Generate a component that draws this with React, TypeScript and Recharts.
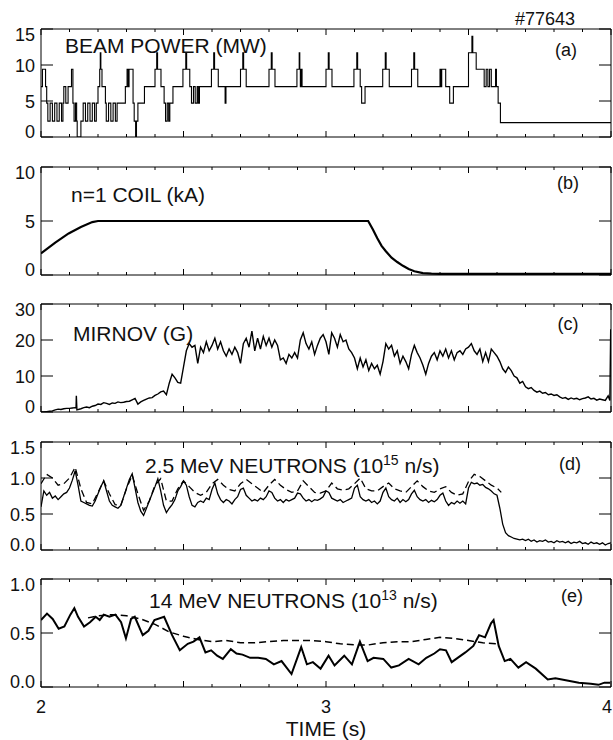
import React from 'react';
import { LineChart, Line, XAxis, YAxis } from 'recharts';

// ---- data (time in s) ----

// (a) beam power, MW, stepwise
const beamPower = [
  [2.000, 7.0], [2.005, 9.4], [2.016, 7.0], [2.020, 4.7], [2.024, 2.2], [2.032, 4.7], [2.040, 2.2], [2.048, 4.7],
  [2.056, 2.2], [2.064, 4.7], [2.072, 2.2], [2.077, 4.7], [2.080, 7.0], [2.087, 4.7], [2.095, 7.0], [2.107, 9.4],
  [2.112, 4.7], [2.116, 2.2], [2.121, 4.7], [2.125, 2.2], [2.127, 0], [2.140, 2.2], [2.148, 4.7], [2.156, 2.2],
  [2.164, 4.7], [2.172, 2.2], [2.180, 4.7], [2.188, 2.2], [2.194, 4.7], [2.200, 7.0], [2.206, 9.4], [2.208, 11.7],
  [2.210, 9.4], [2.214, 7.0], [2.226, 4.7], [2.229, 2.2], [2.237, 4.7], [2.245, 2.2], [2.253, 4.7], [2.261, 2.2],
  [2.267, 4.7], [2.296, 7.0], [2.302, 9.4], [2.306, 7.0], [2.309, 9.4], [2.323, 4.7], [2.327, 2.2], [2.332, 0],
  [2.335, 2.2], [2.340, 4.7], [2.363, 7.0], [2.400, 9.4], [2.406, 11.7], [2.409, 9.4], [2.421, 7.0], [2.432, 4.7],
  [2.437, 2.2], [2.443, 4.7], [2.448, 2.2], [2.452, 4.7], [2.463, 7.0], [2.498, 9.4], [2.508, 11.7], [2.511, 9.4],
  [2.522, 7.0], [2.528, 4.7], [2.535, 7.0], [2.541, 4.7], [2.548, 7.0], [2.552, 4.7], [2.556, 7.0], [2.598, 9.4],
  [2.606, 11.7], [2.609, 9.4], [2.622, 7.0], [2.646, 4.7], [2.649, 7.0], [2.700, 9.4], [2.708, 11.7], [2.711, 9.4],
  [2.720, 7.0], [2.800, 9.4], [2.808, 11.7], [2.811, 9.4], [2.821, 7.0], [2.898, 9.4], [2.906, 11.7], [2.908, 9.4],
  [2.910, 7.0], [2.913, 9.4], [2.916, 7.0], [3.000, 9.4], [3.008, 11.7], [3.011, 9.4], [3.021, 7.0], [3.098, 9.4],
  [3.108, 11.7], [3.111, 9.4], [3.120, 7.0], [3.125, 4.7], [3.137, 7.0], [3.199, 9.4], [3.208, 11.7], [3.211, 9.4],
  [3.222, 7.0], [3.300, 9.4], [3.308, 11.7], [3.311, 9.4], [3.322, 7.0], [3.400, 9.4], [3.403, 7.0], [3.406, 9.4],
  [3.420, 7.0], [3.434, 4.7], [3.447, 7.0], [3.500, 11.7], [3.512, 14.0], [3.515, 11.7], [3.527, 9.4], [3.555, 7.0],
  [3.562, 9.4], [3.568, 7.0], [3.574, 9.4], [3.580, 7.0], [3.595, 9.4], [3.598, 7.0], [3.604, 4.7], [3.612, 2.0],
  [4.000, 2.0],
];

// (b) n=1 coil current, kA
const coilCurrent = [
  [2.00, 2.0], [2.05, 3.0], [2.097, 3.85], [2.14, 4.45], [2.18, 4.9], [2.20, 5.0], [3.148, 5.0], [3.165, 4.2],
  [3.18, 3.4], [3.195, 2.7], [3.21, 2.2], [3.23, 1.6], [3.25, 1.2], [3.27, 0.85], [3.29, 0.55], [3.31, 0.35],
  [3.34, 0.18], [3.37, 0.12], [3.40, 0.1], [4.00, 0.1],
];

// (c) Mirnov amplitude, G
const mirnov = [
  [2.00, 0], [2.01, 0], [2.02, 0.1], [2.03, 0.2], [2.04, 0.3], [2.05, 0.6], [2.06, 0.8], [2.07, 0.7], [2.08, 0.9],
  [2.09, 1.0], [2.10, 1.0], [2.11, 1.1], [2.12, 1.2], [2.123, 1.1], [2.124, 4.5], [2.126, 0.6], [2.14, 0.9],
  [2.15, 1.2], [2.16, 1.4], [2.17, 1.2], [2.18, 1.6], [2.19, 1.8], [2.20, 2.2], [2.21, 2.1], [2.22, 2.6],
  [2.23, 2.4], [2.24, 2.1], [2.25, 2.5], [2.26, 2.4], [2.27, 2.8], [2.28, 2.6], [2.29, 2.7], [2.30, 2.9],
  [2.31, 3.0], [2.32, 3.4], [2.33, 3.8], [2.34, 2.2], [2.35, 2.8], [2.36, 3.2], [2.37, 3.6], [2.38, 3.9],
  [2.39, 4.0], [2.40, 4.6], [2.41, 5.0], [2.42, 5.6], [2.43, 5.8], [2.44, 4.8], [2.45, 8.0], [2.46, 10.5],
  [2.47, 9.5], [2.48, 8.2], [2.49, 8.0], [2.50, 12.5], [2.51, 17.0], [2.52, 19.0], [2.53, 18.0], [2.54, 18.5],
  [2.55, 13.5], [2.56, 18.0], [2.57, 16.5], [2.58, 19.5], [2.59, 17.0], [2.60, 18.5], [2.61, 20.5], [2.62, 17.5],
  [2.63, 19.5], [2.64, 17.0], [2.65, 15.5], [2.66, 17.5], [2.67, 16.0], [2.68, 18.0], [2.69, 16.5], [2.70, 13.5],
  [2.71, 19.0], [2.72, 20.5], [2.73, 18.0], [2.74, 22.5], [2.75, 17.0], [2.76, 20.5], [2.77, 17.5], [2.78, 21.0],
  [2.79, 18.5], [2.80, 20.5], [2.81, 18.0], [2.82, 20.0], [2.83, 18.5], [2.84, 14.5], [2.85, 15.0], [2.86, 13.5],
  [2.87, 16.0], [2.88, 15.0], [2.89, 16.5], [2.90, 15.0], [2.91, 20.0], [2.92, 22.0], [2.93, 19.0], [2.94, 17.5],
  [2.95, 19.5], [2.96, 16.0], [2.97, 18.5], [2.98, 20.5], [2.99, 21.5], [3.00, 19.5], [3.01, 16.0], [3.02, 22.0],
  [3.03, 20.5], [3.04, 18.0], [3.05, 21.5], [3.06, 19.5], [3.07, 20.0], [3.08, 17.5], [3.09, 16.5], [3.10, 15.0],
  [3.11, 12.0], [3.12, 15.0], [3.13, 12.5], [3.14, 14.5], [3.15, 11.5], [3.16, 13.5], [3.17, 12.0], [3.18, 13.0],
  [3.19, 10.5], [3.20, 14.0], [3.21, 19.0], [3.22, 17.5], [3.23, 18.5], [3.24, 15.5], [3.25, 17.0], [3.26, 13.5],
  [3.27, 15.5], [3.28, 14.0], [3.29, 12.0], [3.30, 16.0], [3.31, 18.5], [3.32, 16.5], [3.33, 15.0], [3.34, 13.0],
  [3.35, 10.5], [3.36, 13.5], [3.37, 15.5], [3.38, 16.5], [3.39, 14.5], [3.40, 17.0], [3.41, 15.5], [3.42, 17.5],
  [3.43, 15.0], [3.44, 17.0], [3.45, 14.5], [3.46, 16.5], [3.47, 17.0], [3.48, 16.0], [3.49, 17.5], [3.50, 18.0],
  [3.51, 19.0], [3.52, 17.0], [3.53, 16.0], [3.54, 17.5], [3.55, 14.0], [3.56, 16.5], [3.57, 14.0], [3.58, 17.5],
  [3.59, 16.5], [3.60, 15.5], [3.61, 14.0], [3.62, 12.0], [3.63, 11.0], [3.64, 12.5], [3.65, 11.5], [3.66, 10.0],
  [3.67, 9.5], [3.68, 8.0], [3.69, 8.5], [3.70, 7.0], [3.71, 6.5], [3.72, 6.8], [3.73, 6.0], [3.74, 5.5],
  [3.75, 5.8], [3.76, 5.2], [3.77, 5.4], [3.78, 4.8], [3.79, 5.0], [3.80, 4.6], [3.81, 4.8], [3.82, 4.2],
  [3.83, 3.8], [3.84, 4.0], [3.85, 3.5], [3.86, 3.9], [3.87, 3.6], [3.88, 3.8], [3.89, 3.4], [3.90, 3.7],
  [3.91, 3.9], [3.92, 4.2], [3.93, 3.6], [3.94, 3.8], [3.95, 3.3], [3.96, 3.6], [3.97, 3.4], [3.98, 3.2],
  [3.99, 4.5], [3.996, 3.2], [3.999, 23.0],
];

// (d) 2.5 MeV neutrons, 1e15 n/s: measured (solid) and calculated (dashed)
const dd25Measured = [
  [2.00, 0.60], [2.01, 0.82], [2.02, 0.76], [2.03, 0.80], [2.04, 0.72], [2.05, 0.75], [2.06, 0.70], [2.07, 0.74],
  [2.08, 0.78], [2.09, 0.80], [2.10, 0.86], [2.11, 0.97], [2.12, 1.10], [2.13, 0.90], [2.14, 0.68], [2.15, 0.66],
  [2.16, 0.64], [2.17, 0.62], [2.18, 0.61], [2.19, 0.68], [2.20, 0.78], [2.21, 0.88], [2.22, 0.96], [2.23, 0.82],
  [2.24, 0.68], [2.25, 0.62], [2.26, 0.60], [2.27, 0.58], [2.28, 0.62], [2.29, 0.74], [2.30, 0.86], [2.31, 0.98],
  [2.32, 1.06], [2.33, 0.86], [2.34, 0.66], [2.35, 0.54], [2.36, 0.48], [2.37, 0.58], [2.38, 0.68], [2.39, 0.78],
  [2.40, 0.88], [2.41, 0.99], [2.42, 0.82], [2.43, 0.62], [2.44, 0.52], [2.45, 0.58], [2.46, 0.63], [2.47, 0.70],
  [2.48, 0.82], [2.49, 0.88], [2.50, 0.96], [2.51, 0.90], [2.52, 0.74], [2.53, 0.62], [2.54, 0.60], [2.55, 0.66],
  [2.56, 0.68], [2.57, 0.66], [2.58, 0.72], [2.59, 0.70], [2.60, 0.84], [2.61, 0.93], [2.62, 0.78], [2.63, 0.70],
  [2.64, 0.66], [2.65, 0.70], [2.66, 0.68], [2.67, 0.64], [2.68, 0.70], [2.69, 0.74], [2.70, 0.84], [2.71, 0.86],
  [2.72, 0.76], [2.73, 0.72], [2.74, 0.68], [2.75, 0.70], [2.76, 0.68], [2.77, 0.72], [2.78, 0.70], [2.79, 0.74],
  [2.80, 0.82], [2.81, 0.80], [2.82, 0.72], [2.83, 0.68], [2.84, 0.70], [2.85, 0.66], [2.86, 0.70], [2.87, 0.68],
  [2.88, 0.70], [2.89, 0.72], [2.90, 0.79], [2.91, 0.78], [2.92, 0.72], [2.93, 0.68], [2.94, 0.70], [2.95, 0.67],
  [2.96, 0.70], [2.97, 0.69], [2.98, 0.71], [2.99, 0.74], [3.00, 0.82], [3.01, 0.80], [3.02, 0.72], [3.03, 0.70],
  [3.04, 0.68], [3.05, 0.70], [3.06, 0.66], [3.07, 0.68], [3.08, 0.70], [3.09, 0.72], [3.10, 0.86], [3.11, 0.90],
  [3.12, 0.74], [3.13, 0.70], [3.14, 0.68], [3.15, 0.70], [3.16, 0.66], [3.17, 0.68], [3.18, 0.64], [3.19, 0.68],
  [3.20, 0.80], [3.21, 0.86], [3.22, 0.74], [3.23, 0.70], [3.24, 0.68], [3.25, 0.72], [3.26, 0.66], [3.27, 0.70],
  [3.28, 0.67], [3.29, 0.70], [3.30, 0.78], [3.31, 0.83], [3.32, 0.74], [3.33, 0.70], [3.34, 0.68], [3.35, 0.70],
  [3.36, 0.66], [3.37, 0.69], [3.38, 0.67], [3.39, 0.70], [3.40, 0.76], [3.41, 0.79], [3.42, 0.68], [3.43, 0.62],
  [3.44, 0.66], [3.45, 0.64], [3.46, 0.68], [3.47, 0.65], [3.48, 0.68], [3.49, 0.64], [3.50, 0.86], [3.51, 0.94],
  [3.52, 0.92], [3.53, 0.93], [3.54, 0.90], [3.55, 0.91], [3.56, 0.87], [3.57, 0.85], [3.58, 0.82], [3.59, 0.78],
  [3.60, 0.76], [3.61, 0.58], [3.62, 0.36], [3.63, 0.24], [3.64, 0.20], [3.65, 0.18], [3.66, 0.16], [3.67, 0.15],
  [3.68, 0.14], [3.69, 0.15], [3.70, 0.13], [3.71, 0.15], [3.72, 0.12], [3.73, 0.14], [3.74, 0.11], [3.75, 0.13],
  [3.76, 0.12], [3.77, 0.14], [3.78, 0.11], [3.79, 0.12], [3.80, 0.10], [3.81, 0.13], [3.82, 0.11], [3.83, 0.12],
  [3.84, 0.10], [3.85, 0.12], [3.86, 0.09], [3.87, 0.11], [3.88, 0.10], [3.89, 0.12], [3.90, 0.09], [3.91, 0.10],
  [3.92, 0.08], [3.93, 0.11], [3.94, 0.09], [3.95, 0.10], [3.96, 0.08], [3.97, 0.10], [3.98, 0.07], [3.99, 0.09],
  [4.00, 0.10],
];
const dd25Calculated = [
  [2.00, 0.92], [2.02, 1.05], [2.04, 1.00], [2.06, 0.90], [2.08, 0.92], [2.10, 1.00], [2.12, 1.15], [2.14, 0.85],
  [2.16, 0.66], [2.18, 0.64], [2.20, 0.80], [2.22, 0.96], [2.24, 0.78], [2.26, 0.63], [2.28, 0.62], [2.30, 0.85],
  [2.32, 1.04], [2.34, 0.78], [2.36, 0.55], [2.38, 0.68], [2.40, 0.90], [2.42, 0.99], [2.44, 0.68], [2.46, 0.68],
  [2.48, 0.85], [2.50, 0.96], [2.52, 0.88], [2.54, 0.80], [2.56, 0.76], [2.58, 0.80], [2.60, 0.92], [2.62, 0.98],
  [2.64, 0.90], [2.66, 0.84], [2.68, 0.82], [2.70, 0.92], [2.72, 0.98], [2.74, 0.92], [2.76, 0.86], [2.78, 0.80],
  [2.80, 0.90], [2.82, 0.98], [2.84, 0.90], [2.86, 0.84], [2.88, 0.80], [2.90, 0.82], [2.92, 0.96], [2.94, 0.88],
  [2.96, 0.80], [2.98, 0.79], [3.00, 0.82], [3.02, 0.93], [3.04, 0.85], [3.06, 0.83], [3.08, 0.85], [3.10, 0.92],
  [3.12, 1.00], [3.14, 0.85], [3.16, 0.82], [3.18, 0.82], [3.20, 0.88], [3.22, 0.93], [3.24, 0.85], [3.26, 0.82],
  [3.28, 0.80], [3.30, 0.88], [3.32, 0.96], [3.34, 0.88], [3.36, 0.82], [3.38, 0.80], [3.40, 0.85], [3.42, 0.88],
  [3.44, 0.80], [3.46, 0.76], [3.48, 0.78], [3.50, 0.95], [3.52, 1.05], [3.54, 1.02], [3.56, 0.96], [3.58, 0.90],
  [3.60, 0.86], [3.615, 0.80],
];

// (e) 14 MeV neutrons, 1e13 n/s: measured (solid) and calculated (dashed)
const dt14Measured = [
  [2.000, 0.62], [2.021, 0.68], [2.041, 0.63], [2.062, 0.54], [2.082, 0.56], [2.103, 0.67], [2.117, 0.73],
  [2.130, 0.65], [2.151, 0.56], [2.172, 0.60], [2.192, 0.65], [2.206, 0.62], [2.220, 0.67], [2.240, 0.65],
  [2.261, 0.67], [2.281, 0.60], [2.298, 0.45], [2.316, 0.63], [2.329, 0.65], [2.357, 0.48], [2.377, 0.52],
  [2.398, 0.62], [2.432, 0.65], [2.460, 0.48], [2.487, 0.34], [2.515, 0.40], [2.535, 0.42], [2.556, 0.46],
  [2.577, 0.32], [2.597, 0.34], [2.618, 0.29], [2.638, 0.26], [2.666, 0.35], [2.686, 0.31], [2.707, 0.30],
  [2.734, 0.27], [2.762, 0.27], [2.789, 0.26], [2.817, 0.21], [2.844, 0.24], [2.879, 0.12], [2.913, 0.37],
  [2.933, 0.21], [2.954, 0.23], [2.981, 0.17], [3.009, 0.29], [3.030, 0.20], [3.064, 0.29], [3.091, 0.21],
  [3.119, 0.42], [3.146, 0.24], [3.167, 0.27], [3.201, 0.26], [3.229, 0.18], [3.256, 0.20], [3.290, 0.26],
  [3.325, 0.21], [3.352, 0.27], [3.380, 0.31], [3.400, 0.35], [3.421, 0.34], [3.441, 0.23], [3.462, 0.27],
  [3.489, 0.32], [3.517, 0.38], [3.537, 0.48], [3.558, 0.46], [3.579, 0.59], [3.588, 0.62], [3.606, 0.38],
  [3.627, 0.24], [3.647, 0.26], [3.675, 0.18], [3.702, 0.23], [3.736, 0.17], [3.778, 0.07], [3.805, 0.08],
  [3.846, 0.06], [3.887, 0.04], [3.929, 0.03], [3.956, 0.02], [3.977, 0.04], [3.997, 0.04],
];
const dt14Calculated = [
  [2.165, 0.64], [2.20, 0.66], [2.25, 0.67], [2.30, 0.66], [2.35, 0.63], [2.40, 0.58], [2.45, 0.51], [2.50, 0.47],
  [2.55, 0.44], [2.60, 0.42], [2.65, 0.43], [2.70, 0.41], [2.75, 0.41], [2.80, 0.42], [2.85, 0.43], [2.90, 0.43],
  [2.95, 0.43], [3.00, 0.42], [3.05, 0.40], [3.10, 0.39], [3.15, 0.39], [3.20, 0.41], [3.25, 0.42], [3.30, 0.42],
  [3.35, 0.44], [3.40, 0.46], [3.45, 0.45], [3.50, 0.43], [3.55, 0.41], [3.60, 0.40],
];

// axis ticks
const timeTicks = [2.0, 2.1, 2.2, 2.3, 2.4, 2.5, 2.6, 2.7, 2.8, 2.9, 3.0, 3.1, 3.2, 3.3, 3.4, 3.5, 3.6, 3.7, 3.8, 3.9, 4.0];
const timeLabels = [2, 3, 4];
const beamTicks = [0, 5, 10, 15];
const coilTicks = [0, 5, 10];
const mirnovTicks = [0, 10, 20, 30];
const dd25Ticks = [0, 0.5, 1.0, 1.5];
const dt14Ticks = [0, 0.5, 1.0];

// ---- layout ----
const W = 613;
const H = 740;
const AXIS_W = 41;
const PLOT_H = 108;
const PAD = 10;
const FONT = '"Liberation Sans", Arial, Helvetica, sans-serif';
const INK = '#111';

const toRows = (pts: number[][]) => pts.map(([t, v]) => ({ t, v }));

const TimeTick = (props: any) => {
  const { x, y, payload, side, showLabel } = props;
  const v = payload.value;
  const major = Math.abs(v * 2 - Math.round(v * 2)) < 1e-6;
  const len = major ? 6 : 3;
  const dir = side === 'bottom' ? -1 : 1;
  const isLabel = showLabel && timeLabels.some((l) => Math.abs(l - v) < 1e-6);
  // the last label sits at the very edge of the page; keep it inside
  const atEdge = Math.abs(v - 4) < 1e-6;
  return (
    <g>
      <line x1={x} x2={x} y1={y} y2={y + dir * len} stroke="#000" strokeWidth={1} />
      {isLabel && (
        <text x={atEdge ? W - 1 : x} y={y + 26} textAnchor={atEdge ? 'end' : 'middle'} fontFamily={FONT} fontSize={18} fill={INK}>
          {Math.round(v)}
        </text>
      )}
    </g>
  );
};

const ValueTick = (props: any) => {
  const { x, y, payload, side, lo, hi, decimals } = props;
  const v = payload.value;
  if (side === 'right') {
    return <line x1={x} x2={x - 12} y1={y} y2={y} stroke="#000" strokeWidth={1} />;
  }
  const off = v === hi ? 6 : v === lo ? -5 : 1;
  return (
    <g>
      <line x1={x} x2={x + 12} y1={y} y2={y} stroke="#000" strokeWidth={1} />
      <text x={x - 6} y={y + off} textAnchor="end" dominantBaseline="central" fontFamily={FONT} fontSize={18} fill={INK}>
        {v.toFixed(decimals)}
      </text>
    </g>
  );
};

type Trace = { rows: { t: number; v: number }[]; width: number; dash?: string; step?: boolean };

const Panel = ({ top, lo, hi, ticks, decimals, traces, last }: {
  top: number; lo: number; hi: number; ticks: number[]; decimals: number; traces: Trace[]; last?: boolean;
}) => {
  const padBottom = last ? 60 : PAD;
  const height = PLOT_H + PAD + padBottom;
  return (
    <div style={{ position: 'absolute', left: 0, top: top - PAD }}>
      <LineChart width={W} height={height} margin={{ top: PAD - 1, right: 0, bottom: padBottom - 1, left: 0 }}>
        <XAxis
          xAxisId="b" dataKey="t" type="number" domain={[2, 4]} allowDataOverflow ticks={timeTicks} interval={0}
          height={1} tickSize={0} tickMargin={0} axisLine={{ stroke: '#000' }} tickLine={false}
          tick={(p: any) => <TimeTick {...p} side="bottom" showLabel={last} />}
        />
        <XAxis
          xAxisId="t" orientation="top" dataKey="t" type="number" domain={[2, 4]} allowDataOverflow ticks={timeTicks}
          interval={0} height={1} tickSize={0} tickMargin={0} axisLine={{ stroke: '#000' }} tickLine={false}
          tick={(p: any) => <TimeTick {...p} side="top" />}
        />
        <YAxis
          yAxisId="l" width={AXIS_W} type="number" domain={[lo, hi]} allowDataOverflow ticks={ticks} interval={0}
          tickSize={0} tickMargin={0} axisLine={{ stroke: '#000' }} tickLine={false}
          tick={(p: any) => <ValueTick {...p} side="left" lo={lo} hi={hi} decimals={decimals} />}
        />
        <YAxis
          yAxisId="r" orientation="right" width={2} type="number" domain={[lo, hi]} allowDataOverflow ticks={ticks}
          interval={0} tickSize={0} tickMargin={0} axisLine={{ stroke: '#000' }} tickLine={false}
          tick={(p: any) => <ValueTick {...p} side="right" />}
        />
        {traces.map((tr, i) => (
          <Line
            key={i} xAxisId="b" yAxisId="l" data={tr.rows} dataKey="v" type={tr.step ? 'stepAfter' : 'linear'}
            stroke="#000" strokeWidth={tr.width} strokeDasharray={tr.dash} dot={false} activeDot={false}
            isAnimationActive={false}
          />
        ))}
      </LineChart>
    </div>
  );
};

const Sup = ({ base, sup, rest }: { base: string; sup: string; rest: string }) => (
  <>
    {base}
    <tspan fontSize={14} dy={-8}>{sup}</tspan>
    <tspan dy={8}>{rest}</tspan>
  </>
);

export default function App() {
  const txt = { fontFamily: FONT, fill: INK };
  return (
    <div style={{ position: 'absolute', left: 0, top: 0, width: W, height: H, background: '#fff', overflow: 'hidden' }}>
      <Panel top={29} lo={0} hi={15} ticks={beamTicks} decimals={0}
        traces={[{ rows: toRows(beamPower), width: 1.1, step: true }]} />
      <Panel top={167} lo={0} hi={10} ticks={coilTicks} decimals={0}
        traces={[{ rows: toRows(coilCurrent), width: 2.2 }]} />
      <Panel top={304} lo={0} hi={30} ticks={mirnovTicks} decimals={0}
        traces={[{ rows: toRows(mirnov), width: 1.4 }]} />
      <Panel top={442} lo={0} hi={1.5} ticks={dd25Ticks} decimals={1}
        traces={[
          { rows: toRows(dd25Calculated), width: 1.3, dash: '7 4' },
          { rows: toRows(dd25Measured), width: 1.3 },
        ]} />
      <Panel top={579} lo={0} hi={1.0} ticks={dt14Ticks} decimals={1} last
        traces={[
          { rows: toRows(dt14Calculated), width: 1.5, dash: '7 4' },
          { rows: toRows(dt14Measured), width: 2 },
        ]} />
      <svg width={W} height={H} style={{ position: 'absolute', left: 0, top: 0, pointerEvents: 'none' }}>
        <text x={575} y={25} textAnchor="end" fontSize={18} {...txt}>#77643</text>

        <text x={65} y={53} fontSize={21} {...txt}>BEAM POWER (MW)</text>
        <text x={71} y={202} fontSize={21} {...txt}>n=1 COIL (kA)</text>
        <text x={73} y={341} fontSize={21} {...txt}>MIRNOV (G)</text>
        <text x={145} y={473} fontSize={21} {...txt}>
          <Sup base="2.5 MeV NEUTRONS (10" sup="15" rest=" n/s)" />
        </text>
        <text x={149} y={608} fontSize={21} {...txt}>
          <Sup base="14 MeV NEUTRONS (10" sup="13" rest=" n/s)" />
        </text>

        <text x={566} y={56} textAnchor="middle" fontSize={18} {...txt}>(a)</text>
        <text x={568} y={189} textAnchor="middle" fontSize={18} {...txt}>(b)</text>
        <text x={568} y={330} textAnchor="middle" fontSize={18} {...txt}>(c)</text>
        <text x={570} y={470} textAnchor="middle" fontSize={18} {...txt}>(d)</text>
        <text x={572} y={602} textAnchor="middle" fontSize={18} {...txt}>(e)</text>

        <text x={326} y={736} textAnchor="middle" fontSize={21} {...txt}>TIME (s)</text>
      </svg>
    </div>
  );
}
